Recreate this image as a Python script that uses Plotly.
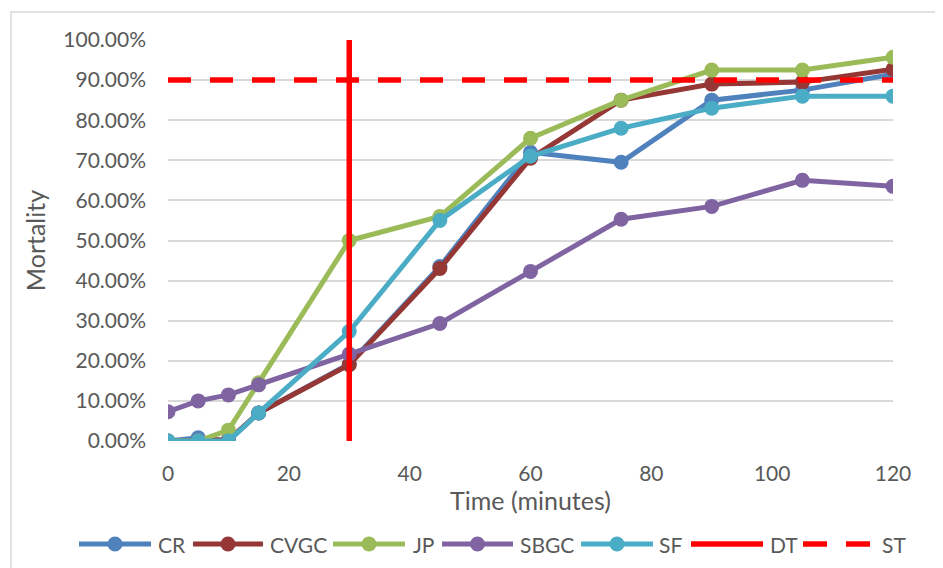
import plotly.graph_objects as go

# ---------------- data ----------------
time_min = [0, 5, 10, 15, 30, 45, 60, 75, 90, 105, 120]
CR = [0.0, 0.8, 0.0, 7.0, 19.2, 43.5, 72.0, 69.5, 85.0, 87.5, 91.5]
CVGC = [0.0, 0.0, 0.3, 7.0, 19.0, 43.0, 70.5, 85.0, 89.0, 89.5, 92.7]
JP = [0.0, 0.0, 2.7, 14.5, 50.0, 56.0, 75.5, 85.0, 92.5, 92.5, 95.7]
SBGC = [7.3, 10.0, 11.5, 14.0, 21.7, 29.3, 42.3, 55.3, 58.5, 65.0, 63.5]
SF = [0.0, 0.0, 0.0, 7.0, 27.3, 55.0, 71.0, 78.0, 83.0, 86.0, 86.0]
DT_x = [30, 30]
DT_y = [0, 100]
ST_x = [0, 120]
ST_y = [90, 90]

x_ticks = [0, 20, 40, 60, 80, 100, 120]
y_ticks = [0, 10, 20, 30, 40, 50, 60, 70, 80, 90, 100]
y_tick_text = ["0.00%", "10.00%", "20.00%", "30.00%", "40.00%", "50.00%",
               "60.00%", "70.00%", "80.00%", "90.00%", "100.00%"]

series_names = ["CR", "CVGC", "JP", "SBGC", "SF"]
series_values = [CR, CVGC, JP, SBGC, SF]
series_colors = ["#4F81BD", "#953735", "#9BBB59", "#8064A2", "#4BACC6"]
RED = "#FF0000"

FONT = "Lato"
TXT = "#595959"

# ---------------- geometry (page px; page has 8px body margin) ----------------
PL, PT, PW, PH = 168, 40, 725, 401   # plot area in page pixels
OFF = 8
FIG_W, FIG_H = 943 - OFF, 568 - OFF


def px_x(X):
    return (X - PL) / PW


def px_y(Y):
    return (PT + PH - Y) / PH


fig = go.Figure()
for name, vals, col in zip(series_names, series_values, series_colors):
    fig.add_trace(go.Scatter(
        x=time_min, y=vals, name=name, mode="lines+markers",
        line=dict(color=col, width=5),
        marker=dict(color=col, size=15),
        showlegend=False,
    ))
fig.add_trace(go.Scatter(x=DT_x, y=DT_y, name="DT", mode="lines",
                         line=dict(color=RED, width=5.5), showlegend=False))
fig.add_trace(go.Scatter(x=ST_x, y=ST_y, name="ST", mode="lines",
                         line=dict(color=RED, width=5.5, dash="23px,19px"),
                         showlegend=False))

# ---------------- custom legend (Excel-style long symbols) ----------------
LEG_Y = 544
legend_items = [
    # name, color, line start, line end, text start, kind
    ("CR", series_colors[0], 79, 151, 156, "marker"),
    ("CVGC", series_colors[1], 193, 263, 268, "marker"),
    ("JP", series_colors[2], 333, 405, 411, "marker"),
    ("SBGC", series_colors[3], 442, 513, 518, "marker"),
    ("SF", series_colors[4], 581, 653, 657, "marker"),
    ("DT", RED, 691, 763, 768, "solid"),
    ("ST", RED, 803, 870, 880, "dash"),
]
shapes = []
annotations = []
for name, col, x0, x1, xt, kind in legend_items:
    if kind == "dash":
        segs = [(x0, x0 + 24), (x1 - 24, x1)]
    else:
        segs = [(x0, x1)]
    for a, b in segs:
        shapes.append(dict(type="line", xref="paper", yref="paper",
                           x0=px_x(a), x1=px_x(b), y0=px_y(LEG_Y), y1=px_y(LEG_Y),
                           line=dict(color=col, width=5.5 if kind != "marker" else 5)))
    if kind == "marker":
        xc = (x0 + x1) / 2
        shapes.append(dict(type="circle", xref="paper", yref="paper",
                           xsizemode="pixel", ysizemode="pixel",
                           xanchor=px_x(xc), yanchor=px_y(LEG_Y),
                           x0=-7.5, x1=7.5, y0=-7.5, y1=7.5,
                           line=dict(color=col, width=0), fillcolor=col))
    annotations.append(dict(text=name, xref="paper", yref="paper",
                            x=px_x(xt), y=px_y(LEG_Y), xanchor="left", yanchor="middle",
                            showarrow=False, font=dict(family=FONT, size=21, color=TXT)))

# outer chart border
shapes.append(dict(type="rect", xref="paper", yref="paper",
                   x0=px_x(11), x1=px_x(940), y0=px_y(580), y1=px_y(12),
                   line=dict(color="#D9D9D9", width=1.5),
                   fillcolor="rgba(0,0,0,0)", layer="below"))

fig.update_layout(
    width=FIG_W, height=FIG_H,
    margin=dict(l=PL - OFF, r=FIG_W - (PL - OFF) - PW, t=PT - OFF,
                b=FIG_H - (PT - OFF) - PH, autoexpand=False),
    paper_bgcolor="white", plot_bgcolor="white",
    font=dict(family=FONT, size=21, color=TXT),
    showlegend=False,
    xaxis=dict(range=[0, 120], tickvals=x_ticks,
               showgrid=False, zeroline=False, showline=False, ticks="",
               ticklabelstandoff=18,
               title=dict(text="Time (minutes)",
                          font=dict(family=FONT, size=25, color=TXT), standoff=2),
               tickfont=dict(family=FONT, size=21, color=TXT)),
    yaxis=dict(range=[0, 100], tickvals=y_ticks, ticktext=y_tick_text,
               showgrid=True, gridcolor="#D9D9D9", gridwidth=1.5,
               zeroline=False, showline=False, ticks="", ticklabelstandoff=21,
               title=dict(text="Mortality",
                          font=dict(family=FONT, size=25, color=TXT), standoff=10),
               tickfont=dict(family=FONT, size=21, color=TXT)),
    shapes=shapes,
    annotations=annotations,
)

fig.write_html("out.html")
